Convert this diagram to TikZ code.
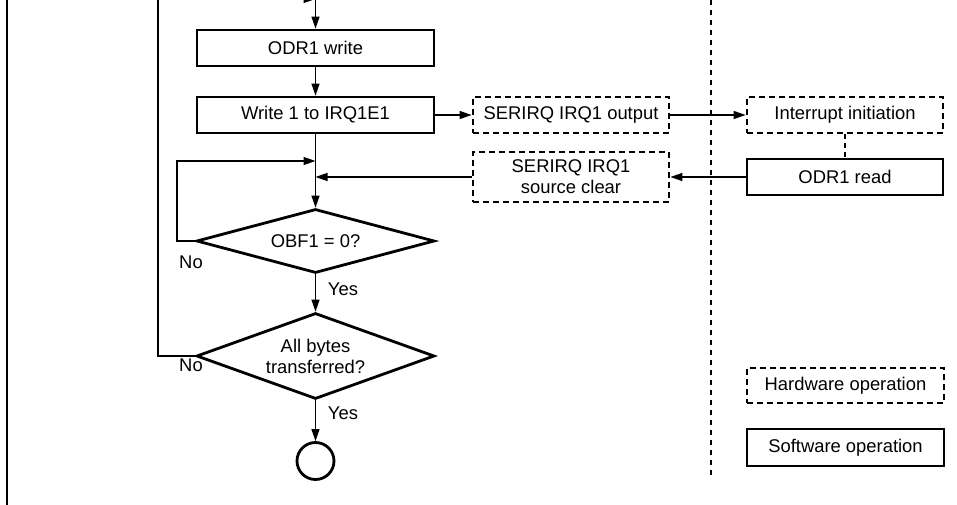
\documentclass[tikz,border=0pt]{standalone}
\usepackage{fontspec}
\setmainfont{Liberation Sans}
\usetikzlibrary{shapes.geometric,arrows.meta}
\tikzset{
  swbox/.style={draw,line width=2.8pt,minimum width=237pt,minimum height=36pt,inner sep=0pt},
  hwbox/.style={draw,line width=2.8pt,dash pattern=on 6pt off 4pt,minimum width=196pt,minimum height=36pt,inner sep=0pt,align=center},
  decide/.style={draw,diamond,line width=2.8pt,minimum width=238pt,inner sep=0pt,align=center},
  flow/.style={line width=1.3pt,-{Triangle[length=12pt,width=8pt]}},
  lbl/.style={inner sep=0pt}
}
\begin{document}
\begin{tikzpicture}[x=1pt,y=-1pt,font=\fontsize{18.4}{21}\selectfont]
\useasboundingbox (0,0) rectangle (957,505);
\clip (0,0) rectangle (957,505);
% frame and divider
\draw[line width=2.4pt] (7,-5) -- (7,510);
\draw[line width=1.2pt,dash pattern=on 5pt off 5pt] (711,0) -- (711,479);
% main column
\coordinate (top) at (315.5,-1);
\node[swbox] (odrw) at (315.5,48) {ODR1 write};
\node[swbox] (wirq) at (315.5,115) {Write 1 to IRQ1E1};
\coordinate (m1) at (315.5,161);
\coordinate (m2) at (315.5,177);
\node[decide,minimum height=64pt,shape aspect=3.7] (obf) at (315.5,241) {OBF1 = 0?};
\node[decide,minimum height=86pt,shape aspect=2.8] (all) at (315.5,356) {All bytes\\transferred?};
\node[draw,circle,line width=2.8pt,minimum size=37pt,inner sep=0pt] (fin) at (315.5,461) {};
% hardware side
\node[hwbox] (sout) at (571,115) {SERIRQ IRQ1 output};
\node[hwbox,minimum height=50pt] (sclr) at (571,177) {SERIRQ IRQ1\\source clear};
\node[hwbox] (intr) at (845,115) {Interrupt initiation};
\node[swbox,minimum width=196pt] (odrr) at (845,177) {ODR1 read};
% legend
\node[hwbox,minimum width=197pt,minimum height=35pt] (hw) at (845.5,385.5) {Hardware operation};
\node[swbox,minimum width=197pt,minimum height=37pt] (sw) at (845.5,447.5) {Software operation};
% connectors
\draw[flow] (top) -- (odrw);
\draw[flow] (odrw) -- (wirq);
\draw[line width=1.3pt] (wirq) -- (m1);
\draw[flow] (m1) -- (obf);
\draw[flow] (obf.west) -- ++(-18,0) |- (m1);
\draw[flow] (sclr.west) -- (m2);
\draw[flow] (wirq.east) -- (sout.west);
\draw[flow] (sout.east) -- (intr.west);
\draw[line width=1.3pt,dash pattern=on 5pt off 4pt] (intr) -- (odrr);
\draw[flow] (odrr.west) -- (sclr.east);
\draw[flow] (obf) -- (all);
\draw[flow] (all.west) -| (158,-1) -- (top);
\draw[flow] (all) -- (fin);
% branch labels
\node[lbl] (no1) at (191,262) {No};
\node[lbl] (yes1) at (343,289) {Yes};
\node[lbl] (no2) at (191,365) {No};
\node[lbl] (yes2) at (343,413) {Yes};
\end{tikzpicture}
\end{document}
